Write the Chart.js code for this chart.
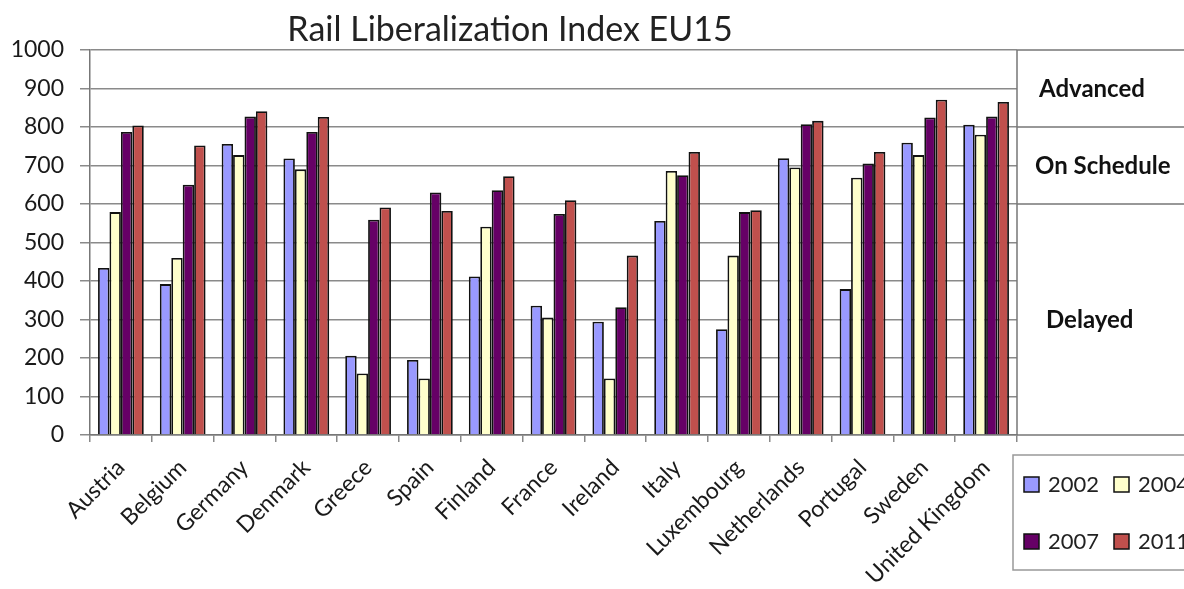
<!DOCTYPE html>
<html><head><meta charset="utf-8">
<script src="https://cdn.jsdelivr.net/npm/chart.js@4"></script>
<style>html,body{margin:0;padding:0;background:#fff;overflow:hidden}</style>
</head><body>
<canvas id="c" width="1184" height="589" style="width:1184px;height:589px;display:block"></canvas>
<script>
const chartTitle = 'Rail Liberalization Index EU15';
const categories = ['Austria','Belgium','Germany','Denmark','Greece','Spain','Finland','France','Ireland','Italy','Luxembourg','Netherlands','Portugal','Sweden','United Kingdom'];
const seriesNames = ['2002','2004','2007','2011'];
const values2002 = [434,392,756,718,206,195,412,336,294,556,275,719,379,759,806];
const values2004 = [579,460,727,690,160,147,541,305,147,686,466,695,668,727,780];
const values2007 = [787,650,827,787,559,630,636,574,332,675,579,807,705,825,827];
const values2011 = [804,752,841,826,591,582,672,610,466,735,584,816,735,871,865];
const seriesColors = ['#9999FF','#FFFFCC','#660066','#C0504D'];
const yTickValues = [0,100,200,300,400,500,600,700,800,900,1000];
const zoneNames = ['Advanced','On Schedule','Delayed'];
const zoneBounds = [1000,800,600,0];

const FONT = 'Lato, "Open Sans", sans-serif';
const allValues = [values2002, values2004, values2007, values2011];

const datasets = seriesNames.map((n,i)=>({
  label:n, data:allValues[i], backgroundColor:seriesColors[i],
  borderColor:'#111', borderWidth:1.8, borderSkipped:'bottom',
  categoryPercentage:0.74, barPercentage:1.0
}));

const extras = {
  id:'extras',
  afterDraw(chart){
    const ctx = chart.ctx, ca = chart.chartArea, y = chart.scales.y;
    ctx.save();
    // title
    ctx.fillStyle = '#222';
    ctx.font = '34px ' + FONT;
    ctx.textAlign = 'center'; ctx.textBaseline = 'middle';
    ctx.fillText(chartTitle, 510, 30);
    // zone box
    ctx.strokeStyle = '#777'; ctx.lineWidth = 1.5;
    ctx.beginPath();
    ctx.moveTo(ca.right, y.getPixelForValue(zoneBounds[0]));
    ctx.lineTo(ca.right, y.getPixelForValue(zoneBounds[3]));
    zoneBounds.forEach(b=>{
      const py = y.getPixelForValue(b);
      ctx.moveTo(ca.right, py); ctx.lineTo(1184, py);
    });
    ctx.stroke();
    ctx.fillStyle = '#111';
    ctx.font = 'bold 24px ' + FONT;
    ctx.textAlign = 'left';
    const zx = [1039, 1035, 1046];
    zoneNames.forEach((n,i)=>{
      const a = y.getPixelForValue(zoneBounds[i]);
      const b = y.getPixelForValue(zoneBounds[i+1]);
      ctx.fillText(n, zx[i], (a+b)/2 + 1);
    });
    // legend
    ctx.strokeStyle = '#999'; ctx.lineWidth = 1.5;
    ctx.strokeRect(1013, 455, 200, 115);
    ctx.font = '22px ' + FONT;
    ctx.textBaseline = 'middle';
    const pos = [[1024,485],[1114,485],[1024,542],[1114,542]];
    chart.data.datasets.forEach((ds,i)=>{
      const [lx,ly] = pos[i];
      ctx.fillStyle = ds.backgroundColor;
      ctx.fillRect(lx, ly-8, 15, 15);
      ctx.strokeStyle = '#111'; ctx.lineWidth = 1.5;
      ctx.strokeRect(lx, ly-8, 15, 15);
      ctx.fillStyle = '#222';
      ctx.fillText(ds.label, lx+24, ly);
    });
    ctx.restore();
  }
};

new Chart(document.getElementById('c'), {
  type:'bar',
  data:{labels:categories, datasets},
  options:{
    responsive:false, animation:false, devicePixelRatio:1,
    layout:{padding:{top:50,right:167,left:0,bottom:0}},
    plugins:{legend:{display:false}, title:{display:false}, tooltip:{enabled:false}},
    scales:{
      x:{
        grid:{offset:true, drawOnChartArea:false, drawTicks:true, tickLength:7, color:'#888', lineWidth:1.5},
        border:{display:true, color:'#777', width:1.5},
        ticks:{minRotation:45, maxRotation:45, autoSkip:false, color:'#1a1a1a', font:{family:FONT, size:23}, padding:12},
        afterFit(s){ s.height = 154; }
      },
      y:{
        min:0, max:1000,
        afterBuildTicks(s){ s.ticks = yTickValues.map(v=>({value:v})); },
        grid:{color:'#8a8a8a', lineWidth:1.5, tickLength:10},
        border:{display:true, color:'#777', width:1.5},
        ticks:{color:'#1a1a1a', font:{family:FONT, size:23}, padding:16, callback:v=>String(v)},
        afterFit(s){ s.width = 90; }
      }
    }
  },
  plugins:[extras]
});
</script>
</body></html>
